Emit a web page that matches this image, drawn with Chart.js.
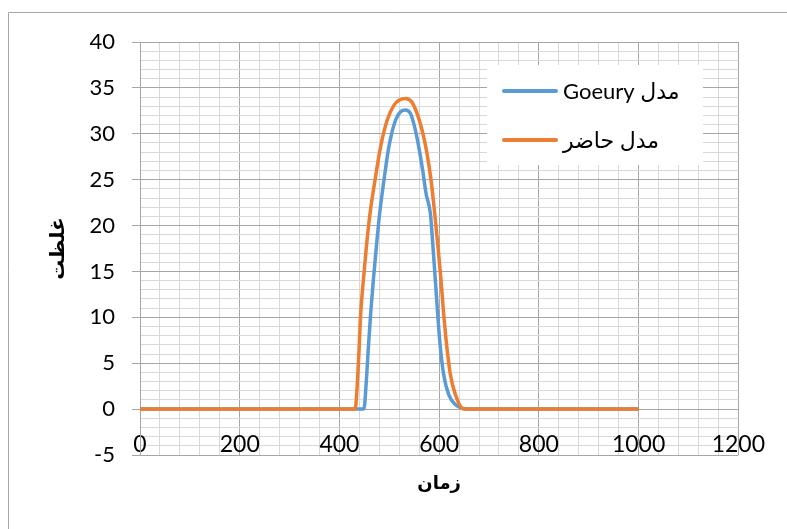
<!DOCTYPE html>
<html>
<head>
<meta charset="utf-8">
<script src="https://cdn.jsdelivr.net/npm/chart.js@4/dist/chart.umd.min.js"></script>
<style>
  html, body { margin: 0; padding: 0; background: #ffffff; }
  canvas { display: block; }
</style>
</head>
<body>
<canvas id="c" width="787" height="529"></canvas>
<script>
// ---- data ----
const seriesNames = ['مدل Goeury', 'مدل حاضر'];
const goeuryTime = [0, 432, 449, 454, 458, 462.6, 467.9, 473.9, 480.6, 489.2, 499.2, 512.6, 522.5, 532.5, 542.5, 551, 559, 567, 573.7, 582.4, 587.7, 592.4, 597, 602.4, 609, 619, 632.4, 659, 1000];
const goeuryConc = [0, 0, 0, 3.1, 6.7, 10.4, 14.0, 17.6, 21.3, 24.9, 28.6, 31.5, 32.4, 32.6, 32.2, 30.7, 28.6, 26.0, 23.5, 21.3, 17.6, 14.0, 10.4, 6.7, 3.8, 1.6, 0.5, 0, 0];
const presentTime = [0, 431.3, 438, 442.6, 447.9, 453.9, 461.3, 471.2, 482.6, 495.8, 509.2, 521.2, 532.5, 544.5, 555.8, 565.8, 575.8, 583.8, 591.1, 597.8, 603.8, 609, 615.6, 622.4, 632.4, 649, 1000];
const presentConc = [0, 0, 4.9, 10.4, 14.0, 17.6, 21.3, 24.9, 28.6, 31.5, 33.1, 33.7, 33.85, 33.5, 32.2, 30.4, 27.8, 24.9, 21.3, 17.6, 14.0, 10.4, 6.7, 3.8, 1.6, 0, 0];
const xTickLabels = [0, 200, 400, 600, 800, 1000, 1200];
const yTickLabels = [-5, 0, 5, 10, 15, 20, 25, 30, 35, 40];
const xTitle = 'زمان';
const yTitle = 'غلظت';

const BLUE = '#5B9BD5';
const ORANGE = '#ED7D31';
const MAJOR = '#a6a6a6';
const MINOR = '#d9d9d9';
const FONT = 'Lato, "DejaVu Sans", sans-serif';

function pts(ts, vs) { return ts.map((t, i) => ({ x: t, y: vs[i] })); }

// minor grid steps
const xMinorStep = 40, yMinorStep = 1;
function gridValues(labels, step) {
  const out = [];
  const lo = labels[0], hi = labels[labels.length - 1];
  for (let v = lo; v <= hi + 1e-9; v += step) out.push(Math.round(v * 1000) / 1000);
  return out;
}

const framePlugin = {
  id: 'frame',
  beforeDraw(chart) {
    const ctx = chart.ctx;
    ctx.save();
    ctx.fillStyle = '#ffffff';
    ctx.fillRect(0, 0, chart.width, chart.height);
    ctx.strokeStyle = '#a6a6a6';
    ctx.lineWidth = 1;
    ctx.beginPath();
    ctx.moveTo(8.5, chart.height + 5);
    ctx.lineTo(8.5, 12.5);
    ctx.lineTo(chart.width + 5, 12.5);
    ctx.stroke();
    ctx.restore();
  }
};

const legendPlugin = {
  id: 'boxLegend',
  afterDatasetsDraw(chart) {
    const ctx = chart.ctx;
    ctx.save();
    ctx.fillStyle = '#ffffff';
    ctx.fillRect(487, 65, 216, 100);
    const items = [
      { label: seriesNames[0], color: BLUE, y: 91 },
      { label: seriesNames[1], color: ORANGE, y: 140 }
    ];
    items.forEach(it => {
      ctx.strokeStyle = it.color;
      ctx.lineWidth = 4;
      ctx.lineCap = 'round';
      ctx.beginPath();
      ctx.moveTo(504, it.y);
      ctx.lineTo(556, it.y);
      ctx.stroke();
      ctx.fillStyle = '#000000';
      ctx.font = '22px ' + FONT;
      ctx.direction = 'rtl';
      ctx.textAlign = 'left';
      ctx.textBaseline = 'middle';
      ctx.fillText(it.label, 563, it.y + 1);
    });
    ctx.restore();
  }
};

new Chart(document.getElementById('c'), {
  type: 'line',
  data: {
    datasets: [
      {
        label: seriesNames[0],
        data: pts(goeuryTime, goeuryConc),
        borderColor: BLUE,
        backgroundColor: BLUE,
        borderWidth: 3.5,
        pointRadius: 0,
        cubicInterpolationMode: 'monotone',
        order: 1
      },
      {
        label: seriesNames[1],
        data: pts(presentTime, presentConc),
        borderColor: ORANGE,
        backgroundColor: ORANGE,
        borderWidth: 3.5,
        pointRadius: 0,
        cubicInterpolationMode: 'monotone',
        order: 0
      }
    ]
  },
  options: {
    responsive: false,
    animation: false,
    devicePixelRatio: 1,
    layout: { padding: { top: 42, right: 45, bottom: 74, left: 0 } },
    plugins: {
      legend: { display: false },
      tooltip: { enabled: false }
    },
    scales: {
      x: {
        type: 'linear',
        position: { y: 0 },
        min: xTickLabels[0],
        max: xTickLabels[xTickLabels.length - 1],
        afterBuildTicks: s => { s.ticks = gridValues(xTickLabels, xMinorStep).map(v => ({ value: v })); },
        afterFit: s => { s.height = 75; },
        ticks: {
          autoSkip: false,
          maxRotation: 0,
          minRotation: 0,
          padding: 22,
          color: '#000000',
          font: { family: FONT, size: 23 },
          callback: v => xTickLabels.includes(v) ? String(v) : ''
        },
        grid: {
          drawTicks: false,
          color: c => (c.tick && xTickLabels.includes(c.tick.value)) ? MAJOR : MINOR,
          lineWidth: 1
        },
        border: { color: MAJOR },
        title: {
          display: true,
          text: xTitle,
          color: '#000000',
          font: { family: '"DejaVu Sans", sans-serif', size: 18, weight: 'bold' },
          padding: { top: 0, bottom: -11 }
        }
      },
      y: {
        type: 'linear',
        position: 'left',
        min: yTickLabels[0],
        max: yTickLabels[yTickLabels.length - 1],
        afterBuildTicks: s => { s.ticks = gridValues(yTickLabels, yMinorStep).map(v => ({ value: v })); },
        afterFit: s => { s.width = 140; },
        ticks: {
          autoSkip: false,
          padding: 17,
          color: '#000000',
          font: { family: FONT, size: 22 },
          callback: v => yTickLabels.includes(v) ? String(v) : ''
        },
        grid: {
          drawTicks: true,
          tickLength: 8,
          color: c => (c.tick && yTickLabels.includes(c.tick.value)) ? MAJOR : MINOR,
          tickColor: c => (c.tick && yTickLabels.includes(c.tick.value)) ? MAJOR : 'rgba(0,0,0,0)',
          lineWidth: 1
        },
        border: { color: MAJOR },
        title: {
          display: true,
          text: yTitle,
          color: '#000000',
          font: { family: '"DejaVu Sans", sans-serif', size: 20, weight: 'bold' },
          padding: { top: 47, bottom: 0 }
        }
      }
    }
  },
  plugins: [framePlugin, legendPlugin]
});
</script>
</body>
</html>
